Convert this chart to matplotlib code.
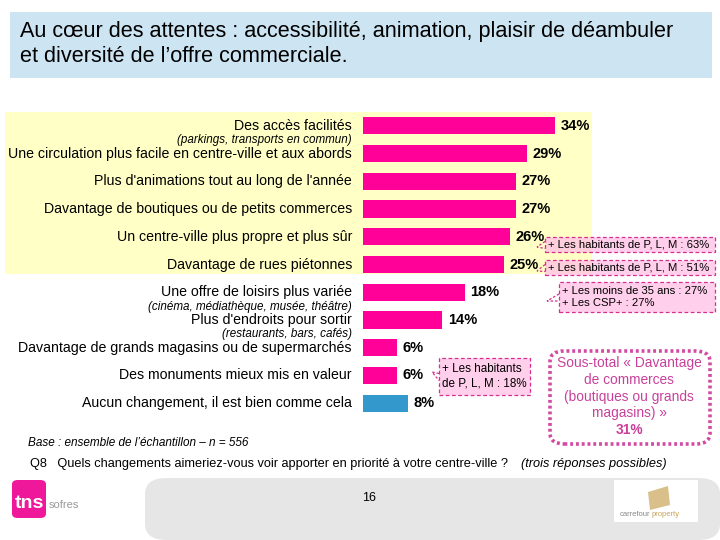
import matplotlib
matplotlib.use("Agg")
import matplotlib.pyplot as plt
from matplotlib.patches import Rectangle, FancyBboxPatch, Polygon

plt.rcParams['font.family'] = ['Liberation Sans', 'DejaVu Sans']

# data
labels = ["Des accès facilités",
          "Une circulation plus facile en centre-ville et aux abords",
          "Plus d'animations tout au long de l'année",
          "Davantage de boutiques ou de petits commerces",
          "Un centre-ville plus propre et plus sûr",
          "Davantage de rues piétonnes",
          "Une offre de loisirs plus variée",
          "Plus d'endroits pour sortir",
          "Davantage de grands magasins ou de supermarchés",
          "Des monuments mieux mis en valeur",
          "Aucun changement, il est bien comme cela"]
sublabels = {0: "(parkings, transports en commun)",
             6: "(cinéma, médiathèque, musée, théâtre)",
             7: "(restaurants, bars, cafés)"}
values = [34, 29, 27, 27, 26, 25, 18, 14, 6, 6, 8]
colors = ["#ff0099"] * 10 + ["#3399cc"]

W, H = 720, 540
fig = plt.figure(figsize=(7.2, 5.4), dpi=100)


def fx(x):
    return x / W


def fy(y):
    return 1 - y / H


def frect(x0, y0, x1, y1, **kw):
    r = Rectangle((fx(x0), fy(y1)), fx(x1 - x0), (y1 - y0) / H,
                  transform=fig.transFigure, **kw)
    fig.add_artist(r)
    return r


# title band
frect(10, 12, 712, 78, fc="#cde4f2", ec="none", zorder=0)
fig.text(fx(20), fy(32), "Au cœur des attentes : accessibilité, animation, plaisir de déambuler",
         fontsize=15.6, va="center", ha="left")
fig.text(fx(20), fy(57), "et diversité de l’offre commerciale.",
         fontsize=15.6, va="center", ha="left")

# yellow highlight behind the top rows
frect(5, 112, 592, 274, fc="#ffffc6", ec="none", zorder=0)

# bars
ax = fig.add_axes([fx(363), fy(417), fx(226), 305 / H])
ax.set_facecolor("none")
ypos = list(range(len(values)))
ax.barh(ypos, values, height=0.62, color=colors)
ax.set_xlim(0, 40)
ax.set_ylim(10.5, -0.5)
ax.axis("off")

for i, (lab, v) in enumerate(zip(labels, values)):
    ax.text(-1.95, i, lab, ha="right", va="center", fontsize=10.2, clip_on=False)
    ax.text(v + 1.0, i, f"{v}%", ha="left", va="center",
            fontsize=10.5, fontweight="bold", clip_on=False)
for i, s in sublabels.items():
    ax.text(-1.95, i + 0.52, s, ha="right", va="center",
            fontsize=8.4, style="italic", clip_on=False)

# callouts
co_fc = (1.0, 0.75, 0.9, 0.75)
co_ec = "#d6308e"


def callout(x0, y0, x1, y1, tip, text, fs=8.1):
    frect(x0, y0, x1, y1, fc=co_fc, ec=co_ec, ls=(0, (3, 2)), lw=0.9, zorder=3)
    ym = (y0 + y1) / 2
    tail = Polygon([(fx(x0), fy(ym - 3)), (fx(tip[0]), fy(tip[1])), (fx(x0), fy(ym + 4))],
                   closed=False, transform=fig.transFigure,
                   fc="none", ec=co_ec, ls=(0, (2, 1.5)), lw=0.9, zorder=3)
    fig.add_artist(tail)
    fig.text(fx(x0 + 3), fy(ym), text, fontsize=fs, va="center", ha="left",
             linespacing=1.25, zorder=4)


callout(545, 237, 715, 252, (537, 247), "+ Les habitants de P, L, M : 63%")
callout(545, 260, 715, 275, (537, 271), "+ Les habitants de P, L, M : 51%")
callout(559, 282, 715, 312, (547, 301), "+ Les moins de 35 ans : 27%\n+ Les CSP+ : 27%")
callout(439, 358, 530, 395, (432, 372), "+ Les habitants\nde P, L, M : 18%", fs=8.4)

# sous-total box
st_col = "#c8409a"
box = FancyBboxPatch((fx(550), fy(444)), fx(160), 93 / H,
                     boxstyle="round,pad=0,rounding_size=0.02",
                     transform=fig.transFigure, fc="white", ec="#d24aa2",
                     lw=2.6, ls=(0, (0.8, 0.8)), zorder=3)
fig.add_artist(box)
st_lines = ["Sous-total « Davantage", "de commerces", "(boutiques ou grands", "magasins) »"]
for k, line in enumerate(st_lines):
    fig.text(fx(629), fy(363 + k * 16.8), line, fontsize=9.9, color=st_col,
             ha="center", va="center", zorder=4)
fig.text(fx(629), fy(430), "31%", fontsize=9.9, color=st_col, fontweight="bold",
         ha="center", va="center", zorder=4)

# notes
fig.text(fx(28), fy(443), "Base : ensemble de l’échantillon – n = 556",
         fontsize=8.5, style="italic", va="center")
fig.text(fx(30), fy(464), "Q8   Quels changements aimeriez-vous voir apporter en priorité à votre centre-ville ?",
         fontsize=9.2, va="center")
fig.text(fx(521), fy(464), "(trois réponses possibles)",
         fontsize=9.2, style="italic", va="center")

# footer
foot = FancyBboxPatch((fx(145), fy(540)), fx(575), 62 / H,
                      boxstyle="round,pad=0,rounding_size=0.03",
                      transform=fig.transFigure, fc="#e6e6e6", ec="none", zorder=1)
fig.add_artist(foot)
fig.text(fx(369), fy(498), "16", fontsize=9, ha="center", va="center", zorder=2)

logo = FancyBboxPatch((fx(12), fy(518)), fx(34), 38 / H,
                      boxstyle="round,pad=0,rounding_size=0.008",
                      transform=fig.transFigure, fc="#f0189a", ec="none", zorder=2)
fig.add_artist(logo)
fig.text(fx(15), fy(504), "tns", fontsize=14, fontweight="bold", color="white",
         va="center", ha="left", zorder=3)
fig.text(fx(49), fy(505), "sofres", fontsize=8, color="#999999", va="center", zorder=3)

frect(614, 480, 698, 522, fc="white", ec="none", zorder=2)
fig.add_artist(Polygon([(fx(648), fy(492)), (fx(668), fy(486)), (fx(670), fy(505)),
                        (fx(650), fy(510))], closed=True, transform=fig.transFigure,
                       fc="#d9c08a", ec="none", zorder=3))
fig.text(fx(620), fy(514), "carrefour", fontsize=5.5, color="#888888", va="center", zorder=3)
fig.text(fx(652), fy(514), "property", fontsize=5.5, color="#c9a35a", va="center", zorder=3)

fig.savefig("out.png", dpi=100, facecolor="white")
